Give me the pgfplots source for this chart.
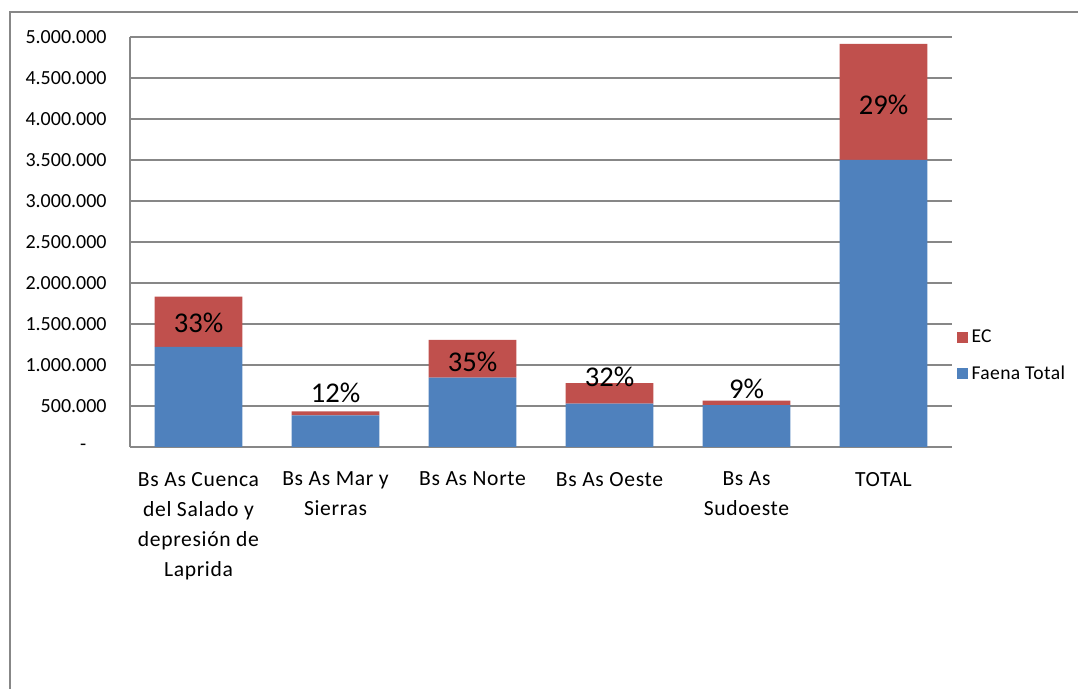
\documentclass[border=0pt]{standalone}
\usepackage{pgfplots}
\pgfplotsset{compat=1.18}
\usepackage{fontspec}
\setmainfont{Carlito}
\newfontfamily\catfont[LetterSpace=3]{Carlito}
\newfontfamily\legfont[LetterSpace=2]{Carlito}
\definecolor{exblue}{HTML}{4F81BD}
\definecolor{exred}{HTML}{C0504D}
\definecolor{exgrid}{HTML}{878787}
\begin{document}
\begin{tikzpicture}
\useasboundingbox (0pt,0pt) rectangle (539pt,344.5pt);
\draw[exgrid, line width=1pt] (5pt,0pt) -- (5pt,338.25pt) -- (539pt,338.25pt);
\begin{axis}[
  at={(65pt,121pt)}, anchor=south west,
  scale only axis, width=411pt, height=205pt,
  ybar stacked, bar width=0.64,
  xmin=-0.5, xmax=5.5, ymin=0, ymax=5000000,
  xtick={0,1,2,3,4,5},
  xticklabels={{Bs As Cuenca\\del Salado y\\depresión de\\Laprida},{Bs As Mar y\\Sierras},{Bs As Norte},{Bs As Oeste},{Bs As\\Sudoeste},{TOTAL}},
  ytick={0,500000,1000000,1500000,2000000,2500000,3000000,3500000,4000000,4500000,5000000},
  yticklabels={{-\hphantom{00}},500.000,1.000.000,1.500.000,2.000.000,2.500.000,3.000.000,3.500.000,4.000.000,4.500.000,5.000.000},
  scaled y ticks=false,
  major tick length=0pt,
  ymajorgrids, grid style={exgrid, line width=0.6pt},
  axis x line*=bottom, axis y line*=left,
  axis line style={exgrid, line width=0.6pt},
  x axis line style={-}, y axis line style={-},
  xticklabel style={font=\catfont\fontsize{10.8}{15}\selectfont, align=center, anchor=north, inner sep=0pt, yshift=-12.3pt, text=black},
  yticklabel style={font=\fontsize{10}{11}\selectfont, anchor=east, inner sep=0pt, xshift=-11.5pt, text=black},
  legend style={at={(1.005,0.222)}, anchor=west, draw=none, fill=none, font=\legfont\fontsize{9.8}{11}\selectfont, row sep=6pt, inner sep=0pt, legend cell align=left},
  reverse legend,
  legend image code/.code={\fill[#1] (0pt,-2.75pt) rectangle (5.5pt,2.75pt);},
]
\addplot[fill=exblue, draw=none] coordinates {(0,1220000) (1,385000) (2,845000) (3,530000) (4,512000) (5,3500000)};
\addlegendentry{Faena Total}
\addplot[fill=exred, draw=none] coordinates {(0,613000) (1,50000) (2,460000) (3,250000) (4,53000) (5,1415000)};
\addlegendentry{EC}
\coordinate (l0) at (axis cs:0,1510000);
\coordinate (l1) at (axis cs:1,660000);
\coordinate (l2) at (axis cs:2,1040000);
\coordinate (l3) at (axis cs:3,850000);
\coordinate (l4) at (axis cs:4,710000);
\coordinate (l5) at (axis cs:5,4170000);
\end{axis}
\begin{scope}[every node/.style={font=\fontsize{14.3}{16}\selectfont}]
\node at (l0) {33\%};
\node at (l1) {12\%};
\node at (l2) {35\%};
\node at (l3) {32\%};
\node at (l4) {9\%};
\node at (l5) {29\%};
\end{scope}
\end{tikzpicture}
\end{document}
